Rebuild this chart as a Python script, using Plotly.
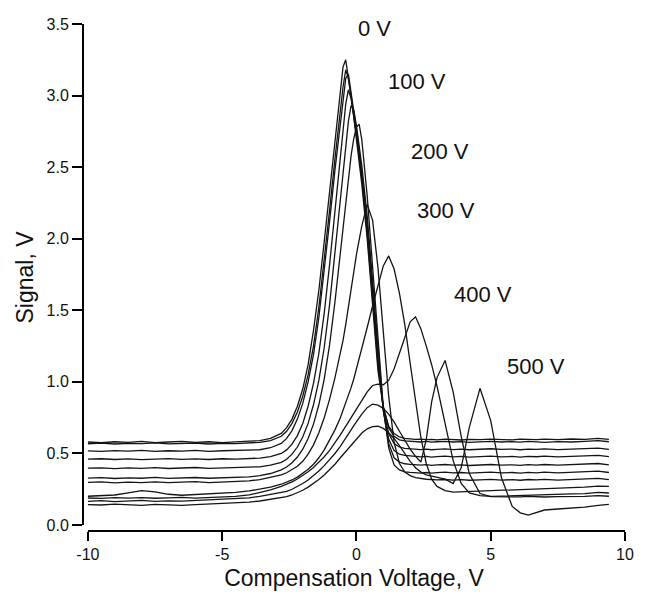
import plotly.graph_objects as go

FONT = "Liberation Sans, Arial, Helvetica, sans-serif"

# Compensation voltage grid (V)
cv = [-10, -9.5, -9, -8.5, -8, -7.5, -7, -6.5, -6, -5.5, -5, -4.5, -4, -3.6, -3.2,
      -2.8, -2.6, -2.4, -2.2, -2.0, -1.8, -1.6, -1.4, -1.2, -1.0, -0.8,
      -0.6, -0.5, -0.4, -0.3, -0.2, -0.1, 0.0, 0.1, 0.2,
      0.4, 0.6, 0.8, 1.0, 1.2, 1.4, 1.6, 1.8, 2.0, 2.2, 2.4, 2.6, 2.8, 3.0,
      3.3, 3.6, 3.9, 4.2, 4.6, 5.0, 5.4, 5.8, 6.1, 6.4, 6.7, 7.0,
      7.5, 8.0, 8.5, 9.0, 9.4]

# Signal (V) for each dispersion voltage
sig_0V = [0.580, 0.575, 0.582, 0.578, 0.585, 0.576, 0.580, 0.584, 0.578, 0.582, 0.576, 0.583, 0.586, 0.590, 0.605,
          0.640, 0.680, 0.740, 0.830, 0.950, 1.120, 1.360, 1.640, 1.980, 2.330, 2.680,
          3.020, 3.200, 3.250, 3.130, 2.990, 2.850, 2.700, 2.550, 2.380,
          2.000, 1.520, 1.080, 0.820, 0.690, 0.640, 0.615, 0.605, 0.600, 0.598, 0.600, 0.596, 0.598, 0.595,
          0.600, 0.597, 0.594, 0.599, 0.596, 0.600, 0.597, 0.595, 0.600, 0.598, 0.596, 0.600,
          0.597, 0.601, 0.598, 0.605, 0.598]
sig_50V = [0.568, 0.572, 0.566, 0.571, 0.569, 0.574, 0.567, 0.570, 0.573, 0.566, 0.571, 0.569, 0.574, 0.578, 0.590,
           0.620, 0.655, 0.710, 0.790, 0.900, 1.050, 1.250, 1.520, 1.850, 2.200, 2.560,
           2.900, 3.060, 3.180, 3.120, 3.000, 2.870, 2.730, 2.580, 2.420,
           2.040, 1.580, 1.120, 0.830, 0.680, 0.620, 0.595, 0.588, 0.585, 0.583, 0.580, 0.584, 0.579, 0.582,
           0.585, 0.580, 0.583, 0.578, 0.582, 0.585, 0.580, 0.583, 0.579, 0.584, 0.581, 0.578,
           0.583, 0.580, 0.585, 0.590, 0.582]
sig_100V = [0.518, 0.515, 0.520, 0.516, 0.521, 0.514, 0.519, 0.517, 0.522, 0.515, 0.519, 0.521, 0.520, 0.526, 0.540,
            0.570, 0.605, 0.660, 0.740, 0.850, 1.000, 1.190, 1.450, 1.770, 2.120, 2.480,
            2.820, 2.990, 3.120, 3.150, 3.030, 2.900, 2.760, 2.610, 2.450,
            2.080, 1.620, 1.150, 0.810, 0.640, 0.570, 0.545, 0.535, 0.532, 0.530, 0.527, 0.531, 0.526, 0.529,
            0.532, 0.527, 0.530, 0.526, 0.530, 0.533, 0.528, 0.531, 0.526, 0.530, 0.528, 0.532,
            0.527, 0.530, 0.534, 0.537, 0.529]
sig_150V = [0.460, 0.463, 0.458, 0.462, 0.457, 0.461, 0.464, 0.459, 0.462, 0.458, 0.463, 0.460, 0.462, 0.468, 0.478,
            0.500, 0.525, 0.565, 0.625, 0.710, 0.830, 0.990, 1.200, 1.480, 1.820, 2.200,
            2.580, 2.770, 2.940, 3.040, 2.980, 2.860, 2.740, 2.600, 2.450,
            2.100, 1.660, 1.180, 0.800, 0.600, 0.520, 0.495, 0.486, 0.482, 0.479, 0.476, 0.480, 0.475, 0.478,
            0.481, 0.476, 0.479, 0.474, 0.478, 0.481, 0.476, 0.479, 0.475, 0.480, 0.477, 0.481,
            0.476, 0.479, 0.483, 0.487, 0.478]
sig_200V = [0.397, 0.400, 0.394, 0.399, 0.396, 0.401, 0.395, 0.398, 0.402, 0.396, 0.399, 0.397, 0.401, 0.407, 0.418,
            0.438, 0.460, 0.495, 0.545, 0.615, 0.710, 0.840, 1.010, 1.240, 1.540, 1.900,
            2.280, 2.480, 2.660, 2.820, 2.930, 2.900, 2.790, 2.660, 2.510,
            2.160, 1.720, 1.220, 0.800, 0.570, 0.470, 0.440, 0.428, 0.424, 0.421, 0.418, 0.422, 0.417, 0.420,
            0.423, 0.418, 0.421, 0.416, 0.420, 0.423, 0.418, 0.421, 0.417, 0.422, 0.419, 0.423,
            0.418, 0.421, 0.425, 0.430, 0.420]
sig_250V = [0.328, 0.331, 0.325, 0.330, 0.327, 0.333, 0.326, 0.329, 0.332, 0.327, 0.330, 0.334, 0.336, 0.345, 0.360,
            0.385, 0.405, 0.435, 0.475, 0.530, 0.605, 0.705, 0.840, 1.020, 1.260, 1.560,
            1.900, 2.080, 2.260, 2.430, 2.580, 2.700, 2.780, 2.800, 2.690,
            2.300, 1.820, 1.280, 0.820, 0.540, 0.420, 0.385, 0.372, 0.368, 0.366, 0.363, 0.367, 0.362, 0.366,
            0.369, 0.364, 0.367, 0.362, 0.366, 0.369, 0.364, 0.367, 0.363, 0.368, 0.365, 0.369,
            0.364, 0.367, 0.371, 0.376, 0.367]
sig_300V = [0.298, 0.301, 0.295, 0.300, 0.297, 0.302, 0.296, 0.299, 0.303, 0.297, 0.300, 0.304, 0.308, 0.318, 0.332,
            0.350, 0.365, 0.385, 0.410, 0.445, 0.495, 0.560, 0.645, 0.750, 0.880, 1.030,
            1.190, 1.290, 1.400, 1.530, 1.660, 1.780, 1.890, 1.990, 2.090,
            2.240, 2.130, 1.800, 1.350, 0.900, 0.580, 0.430, 0.370, 0.345, 0.332, 0.325, 0.320, 0.318, 0.315,
            0.318, 0.314, 0.317, 0.313, 0.316, 0.319, 0.314, 0.317, 0.313, 0.318, 0.315, 0.319,
            0.314, 0.317, 0.321, 0.326, 0.317]
sig_350V = [0.201, 0.205, 0.210, 0.225, 0.240, 0.232, 0.215, 0.208, 0.212, 0.218, 0.222, 0.228, 0.238, 0.250, 0.265,
            0.285, 0.298, 0.315, 0.335, 0.360, 0.390, 0.425, 0.470, 0.525, 0.590, 0.665,
            0.750, 0.800, 0.850, 0.905, 0.960, 1.020, 1.090, 1.160, 1.230,
            1.380, 1.530, 1.680, 1.810, 1.880, 1.790, 1.620, 1.400, 1.130, 0.860, 0.610, 0.430, 0.320, 0.270,
            0.240, 0.230, 0.232, 0.235, 0.238, 0.240, 0.243, 0.246, 0.248, 0.250, 0.253, 0.256,
            0.258, 0.262, 0.265, 0.272, 0.270]
sig_400V = [0.189, 0.186, 0.192, 0.188, 0.191, 0.187, 0.190, 0.193, 0.188, 0.191, 0.195, 0.200, 0.210, 0.225, 0.245,
            0.270, 0.285, 0.302, 0.322, 0.345, 0.372, 0.402, 0.437, 0.477, 0.522, 0.572,
            0.630, 0.660, 0.690, 0.720, 0.750, 0.780, 0.810, 0.840, 0.870,
            0.930, 0.975, 0.985, 0.980, 1.010, 1.090, 1.200, 1.320, 1.420, 1.455, 1.370, 1.250, 1.120, 0.970,
            0.710, 0.450, 0.290, 0.225, 0.205, 0.200, 0.202, 0.205, 0.207, 0.210, 0.212, 0.214,
            0.216, 0.218, 0.220, 0.228, 0.224]
sig_450V = [0.166, 0.170, 0.164, 0.168, 0.172, 0.165, 0.169, 0.167, 0.171, 0.175, 0.178, 0.182, 0.190, 0.200, 0.212,
            0.225, 0.235, 0.250, 0.268, 0.290, 0.315, 0.345, 0.378, 0.415, 0.455, 0.500,
            0.550, 0.577, 0.605, 0.635, 0.665, 0.695, 0.725, 0.750, 0.775,
            0.820, 0.845, 0.838, 0.815, 0.775, 0.720, 0.655, 0.590, 0.530, 0.480, 0.440, 0.600, 0.860, 1.030,
            1.150, 0.930, 0.620, 0.360, 0.220, 0.198, 0.196, 0.199, 0.197, 0.200, 0.198, 0.196,
            0.199, 0.197, 0.200, 0.205, 0.201]
sig_500V = [0.143, 0.140, 0.146, 0.142, 0.138, 0.144, 0.141, 0.137, 0.143, 0.146, 0.150, 0.155, 0.160, 0.168, 0.178,
            0.190, 0.198, 0.210, 0.225, 0.243, 0.265, 0.290, 0.318, 0.350, 0.385, 0.425,
            0.470, 0.492, 0.515, 0.540, 0.563, 0.585, 0.605, 0.625, 0.643,
            0.672, 0.688, 0.690, 0.675, 0.645, 0.605, 0.555, 0.500, 0.445, 0.400, 0.370, 0.350, 0.340, 0.335,
            0.320, 0.290, 0.400, 0.680, 0.955, 0.730, 0.330, 0.130, 0.085, 0.070, 0.085, 0.105,
            0.112, 0.118, 0.125, 0.138, 0.145]

series_names = ["0 V", "50 V", "100 V", "150 V", "200 V", "250 V",
                "300 V", "350 V", "400 V", "450 V", "500 V"]
series_values = [sig_0V, sig_50V, sig_100V, sig_150V, sig_200V, sig_250V,
                 sig_300V, sig_350V, sig_400V, sig_450V, sig_500V]

# Curve labels
label_text = ["0 V", "100 V", "200 V", "300 V", "400 V", "500 V"]
label_x = [0.66, 2.24, 3.11, 3.33, 4.73, 6.70]
label_y = [3.47, 3.10, 2.61, 2.20, 1.61, 1.11]

x_ticks = [-10, -5, 0, 5, 10]
x_ticktext = ["-10", "-5", "0", "5", "10"]
y_ticks = [0.0, 0.5, 1.0, 1.5, 2.0, 2.5, 3.0, 3.5]
y_ticktext = ["0.0", "0.5", "1.0", "1.5", "2.0", "2.5", "3.0", "3.5"]

fig = go.Figure()
for name, ys in zip(series_names, series_values):
    fig.add_trace(go.Scatter(x=cv, y=ys, mode="lines", name=name, showlegend=False,
                             line=dict(color="#141414", width=1.3), hoverinfo="skip"))

for t, lx, ly in zip(label_text, label_x, label_y):
    fig.add_annotation(x=lx, y=ly, text=t, showarrow=False, xanchor="center", yanchor="middle",
                       font=dict(family=FONT, size=22, color="#111"))

# detached axis lines
fig.add_shape(type="line", xref="x", yref="paper", x0=x_ticks[0], x1=x_ticks[-1], y0=0, y1=0,
              line=dict(color="black", width=2))
fig.add_shape(type="line", xref="paper", yref="y", x0=0, x1=0, y0=y_ticks[0], y1=y_ticks[-1],
              line=dict(color="black", width=2))

fig.update_layout(
    width=646, height=598,
    margin=dict(l=83, r=12, t=24, b=63),
    paper_bgcolor="white", plot_bgcolor="white",
    font=dict(family=FONT, color="#111"),
    showlegend=False,
    xaxis=dict(range=[-10.183, 10], tickvals=x_ticks, ticktext=x_ticktext,
               showgrid=False, zeroline=False, showline=False,
               ticks="outside", ticklen=9, tickwidth=2, tickcolor="black",
               tickfont=dict(size=16, family=FONT, color="#111"),
               title=dict(text="Compensation Voltage, V", font=dict(size=23, family=FONT, color="#111"),
                          standoff=7)),
    yaxis=dict(range=[-0.0416, 3.5], tickvals=y_ticks, ticktext=y_ticktext,
               showgrid=False, zeroline=False, showline=False,
               ticks="outside", ticklen=10, tickwidth=2, tickcolor="black",
               tickfont=dict(size=16, family=FONT, color="#111"),
               title=dict(text="Signal, V", font=dict(size=23, family=FONT, color="#111"),
                          standoff=6)),
)

fig.write_html("out.html", config={"displayModeBar": False},
               post_script="document.body.style.margin='0';document.body.style.overflow='hidden';")
